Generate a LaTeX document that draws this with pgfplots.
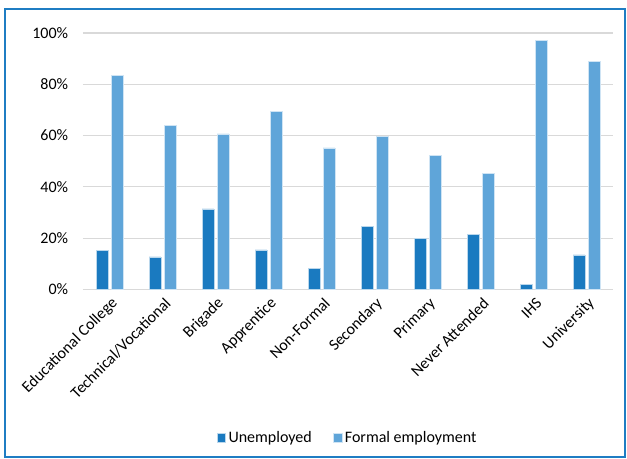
\documentclass[border=0pt]{standalone}
\usepackage{fontspec}
\setmainfont{Carlito}
\usepackage{pgfplots}
\pgfplotsset{compat=1.18}
\definecolor{darkb}{HTML}{1A7AC0}
\definecolor{lightb}{HTML}{5FA5D9}
\definecolor{frameb}{HTML}{1F7DC3}
\begin{document}
\fontsize{12pt}{14pt}\selectfont
\begin{tikzpicture}
\path (0,0) rectangle (470.25pt,344.25pt);
\begin{axis}[
  at={(62.25pt,127.125pt)}, anchor=south west,
  scale only axis, width=397.5pt, height=192.375pt,
  ybar=2.4pt, bar width=8.8pt,
  xmin=-0.5, xmax=9.5, ymin=0, ymax=100,
  xtick=data,
  xticklabels={Educational College,Technical/Vocational,Brigade,Apprentice,Non-Formal,Secondary,Primary,Never Attended,IHS,University},
  x tick label style={rotate=45, anchor=east, xshift=4pt, yshift=-6pt, font=\fontsize{12pt}{14pt}\selectfont},
  ytick={0,20,40,60,80,100},
  yticklabel={\pgfmathprintnumber{\tick}\%},
  y tick label style={xshift=-7pt, font=\fontsize{12pt}{14pt}\selectfont},
  /pgf/number format/assume math mode=true,
  ymajorgrids, major grid style={draw=black!15, line width=0.8pt},
  axis line style={draw=none},
  tick style={draw=none},
  legend columns=2,
  legend style={at={(0.5,-0.579)}, anchor=center, draw=none, fill=none,
    font=\fontsize{12pt}{14pt}\selectfont, /tikz/every even column/.append style={column sep=14pt}},
  legend image code/.code={\fill[#1] (0pt,-3.2pt) rectangle (6.4pt,3.2pt);},
]
\addplot[fill=darkb, draw=white!70!darkb, line width=0.4pt] coordinates {
 (0,15.1) (1,12.7) (2,31.4) (3,15.4) (4,8.1) (5,24.7) (6,20.0) (7,21.4) (8,2.0) (9,13.5)};
\addlegendentry{Unemployed}
\addplot[fill=lightb, draw=white!70!lightb, line width=0.4pt] coordinates {
 (0,83.6) (1,64.1) (2,60.7) (3,69.5) (4,55.2) (5,59.6) (6,52.2) (7,45.3) (8,97.0) (9,88.8)};
\addlegendentry{Formal employment}
\end{axis}
\draw[frameb, line width=1.9pt] (3.75pt,1.5pt) rectangle (468.75pt,337.5pt);
\end{tikzpicture}
\end{document}
